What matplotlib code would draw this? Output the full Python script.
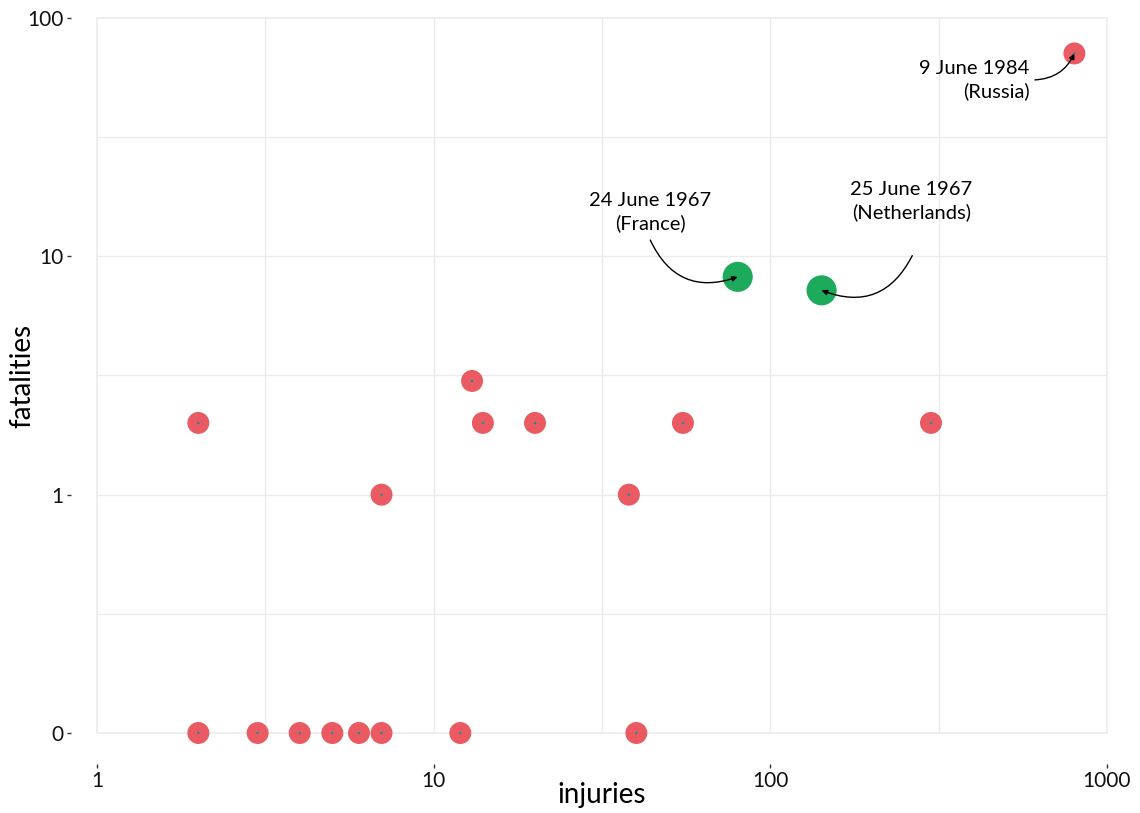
import numpy as np
import matplotlib
matplotlib.use("Agg")
import matplotlib.pyplot as plt
from matplotlib.patches import Rectangle

plt.rcParams['font.family'] = ['Lato', 'DejaVu Sans']

# incidents: injuries vs fatalities
injuries = [2, 2, 3, 4, 5, 6, 7, 7, 12, 13, 14, 20, 38, 40, 55, 300, 800]
fatalities = [2, 0, 0, 0, 0, 0, 0, 1, 0, 3, 2, 2, 1, 0, 2, 2, 71]

# highlighted incidents
big_injuries = [80, 142]
big_fatalities = [8.2, 7.2]

x_ticks = [1, 10, 100, 1000]
y_ticks = [0, 1, 10, 100]

RED = '#E95A63'
GREEN = '#1DAA5B'
GRID = '#EBEBEB'


def setup_axes(ax):
    ax.set_xscale('log')
    ax.set_yscale('symlog', linthresh=1, linscale=0.9)
    ax.set_xlim(1, 1000)
    ax.set_ylim(0, 100)

    ax.set_xticks(x_ticks)
    ax.set_xticklabels([str(v) for v in x_ticks])
    ax.set_yticks(y_ticks)
    ax.set_yticklabels([str(v) for v in y_ticks])
    ax.minorticks_off()

    # gridlines: majors plus midpoints in transformed space
    for v in [10 ** 0.5, 10, 10 ** 1.5, 100, 10 ** 2.5]:
        ax.axvline(v, color=GRID, lw=1, zorder=0)
    for v in [0.5, 1, 10 ** 0.5, 10, 10 ** 1.5]:
        ax.axhline(v, color=GRID, lw=1, zorder=0)

    for s in ax.spines.values():
        s.set_visible(False)
    ax.spines['left'].set_position(('outward', 19))
    ax.spines['bottom'].set_position(('outward', 22))
    ax.add_patch(Rectangle((0, 0), 1, 1, transform=ax.transAxes, fill=False,
                           edgecolor=GRID, lw=1.2, clip_on=False, zorder=0))

    ax.tick_params(axis='both', length=3, width=1, color='#333333',
                   labelsize=15, labelcolor='#111111', pad=2)
    ax.set_xlabel('injuries', fontsize=20, va='center')
    ax.set_ylabel('fatalities', fontsize=20, va='center')
    ax.xaxis.set_label_coords(0.5, -0.087)
    ax.yaxis.set_label_coords(-0.0743, 0.5)


def points(ax):
    ax.scatter(injuries, fatalities, s=250, color=RED, edgecolors='none',
               zorder=3, clip_on=False)
    ax.scatter(injuries, fatalities, s=3, color='#1F8A8A', edgecolors='none',
               zorder=4, clip_on=False)
    ax.scatter(big_injuries, big_fatalities, s=470, color=GREEN,
               edgecolors='none', zorder=3, clip_on=False)


def labels(ax):
    arrow = dict(arrowstyle='-|>', color='black', lw=1,
                 shrinkA=0, shrinkB=0, mutation_scale=8)
    txt = dict(fontsize=14.5, linespacing=1.35)

    ax.text(590, 55, '9 June 1984\n(Russia)', ha='right', va='center',
            multialignment='right', **txt)
    ax.annotate('', xy=(800, 71), xytext=(611, 55),
                arrowprops=dict(arrow, connectionstyle='arc3,rad=0.3'))

    ax.text(43.9, 15.3, '24 June 1967\n(France)', ha='center', va='center',
            **txt)
    ax.annotate('', xy=(80, 8.2), xytext=(44, 11.7),
                arrowprops=dict(arrow, connectionstyle='arc3,rad=0.45'))

    ax.text(262, 17.1, '25 June 1967\n(Netherlands)', ha='center',
            va='center', **txt)
    ax.annotate('', xy=(142, 7.2), xytext=(264, 10.07),
                arrowprops=dict(arrow, connectionstyle='arc3,rad=-0.45'))


def main():
    fig = plt.figure(figsize=(11.4, 8.13), dpi=100)
    ax = fig.add_axes([97 / 1140, 1 - 733 / 813, 1010 / 1140, 715 / 813])
    setup_axes(ax)
    points(ax)
    labels(ax)
    fig.savefig('out.png', dpi=100, facecolor='white')


if __name__ == "__main__":
    main()
